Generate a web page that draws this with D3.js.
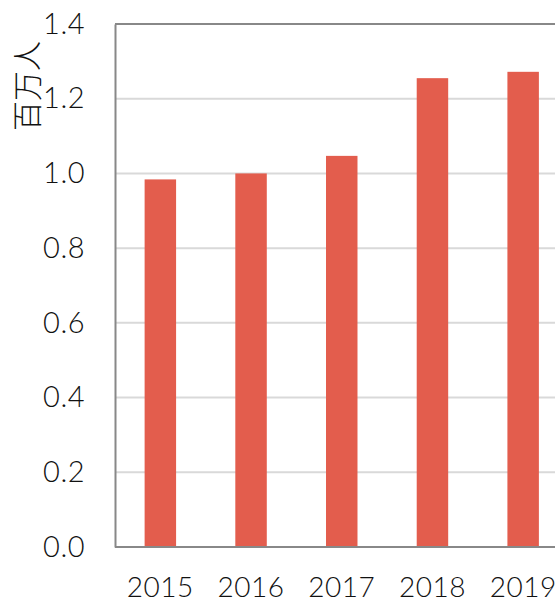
<!DOCTYPE html>
<html>
<head>
<meta charset="utf-8">
<script src="https://cdn.jsdelivr.net/npm/d3@7"></script>
<style>
  body { margin: 0; background: #fff; }
</style>
</head>
<body>
<div id="chart"></div>
<script>
var years = ["2015", "2016", "2017", "2018", "2019"];
var visitors = [0.984, 1.0, 1.047, 1.255, 1.272];
var yTicks = [0, 0.2, 0.4, 0.6, 0.8, 1.0, 1.2, 1.4];

var width = 555, height = 603;
var plotLeft = 115, plotTop = 24, plotBottom = 547;
var step = 90.7;

var svg = d3.select("#chart")
    .append("svg")
    .attr("width", width)
    .attr("height", height);

var x = d3.scaleBand()
    .domain(years)
    .range([plotLeft, plotLeft + step * years.length])
    .paddingInner(0.653)
    .paddingOuter(0.653 / 2);

var y = d3.scaleLinear()
    .domain([0, 1.4])
    .range([plotBottom, plotTop]);

// gridlines
svg.append("g")
    .selectAll("line")
    .data(yTicks.slice(1, -1))
    .enter()
    .append("line")
    .attr("x1", plotLeft)
    .attr("x2", width)
    .attr("y1", function(d) { return y(d) })
    .attr("y2", function(d) { return y(d) })
    .attr("stroke", "#d9d9d9")
    .attr("stroke-width", 2);

// bars
svg.append("g")
    .selectAll("rect")
    .data(visitors)
    .enter()
    .append("rect")
    .attr("x", function(d, i) { return x(years[i]) })
    .attr("width", x.bandwidth())
    .attr("y", function(d) { return y(d) })
    .attr("height", function(d) { return y(0) - y(d) })
    .attr("fill", "#e35d4d");

// top frame line
svg.append("line")
    .attr("x1", plotLeft).attr("x2", width)
    .attr("y1", y(1.4)).attr("y2", y(1.4))
    .attr("stroke", "#888").attr("stroke-width", 2);

var yAxis = svg.append("g")
    .attr("transform", "translate(" + plotLeft + ",0)")
    .call(d3.axisLeft(y).tickValues(yTicks).tickSize(0).tickPadding(30)
        .tickFormat(d3.format(".1f")));
yAxis.select(".domain").attr("stroke", "#888").attr("stroke-width", 2);
yAxis.selectAll("text")
    .attr("font-family", "Lato, 'Open Sans', sans-serif")
    .attr("font-weight", 300)
    .attr("font-size", 29)
    .attr("letter-spacing", 0.5)
    .attr("fill", "#111");

var xAxis = svg.append("g")
    .attr("transform", "translate(0," + plotBottom + ")")
    .call(d3.axisBottom(x).tickSize(0));
xAxis.select(".domain").attr("stroke", "#888").attr("stroke-width", 2)
    .attr("d", "M" + plotLeft + ",0H" + width);
xAxis.selectAll("text")
    .attr("y", 50)
    .attr("dy", 0)
    .attr("font-family", "Lato, 'Open Sans', sans-serif")
    .attr("font-weight", 300)
    .attr("font-size", 28)
    .attr("letter-spacing", 0.5)
    .attr("fill", "#111");

// y label
svg.append("text")
    .attr("transform", "translate(38,86) rotate(-90)")
    .attr("text-anchor", "middle")
    .attr("font-family", "'Noto Sans CJK JP', sans-serif")
    .attr("font-weight", 300)
    .attr("font-size", 30)
    .attr("fill", "#111")
    .text("百万人");
</script>
</body>
</html>
